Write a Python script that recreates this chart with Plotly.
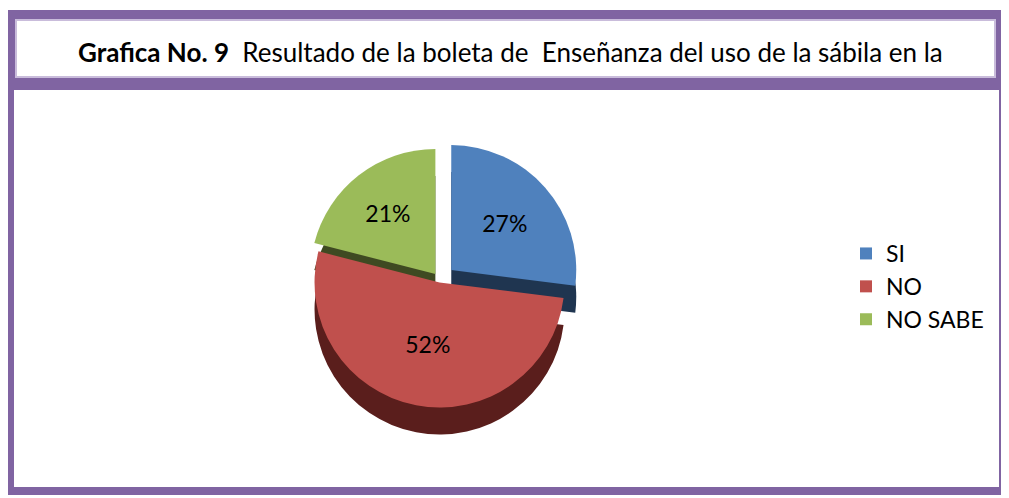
import plotly.graph_objects as go

categories = ["SI", "NO", "NO SABE"]
values = [27, 52, 21]
colors = ["#4F81BD", "#C0504D", "#9BBB59"]
dark_colors = ["#1F3550", "#5A1E1C", "#3F4A22"]
pulls = [0.12, 0.02, 0.06]
title_text = "<b>Grafica No. 9</b>  Resultado de la boleta de  Enseñanza del uso de la sábila en la"

# page body has an 8px margin, so figure is 8px smaller each way and coords shift by 8
OFF = 8
W, H = 1009 - OFF, 498 - OFF
purple = "#8064A2"
FONT = "Lato"

def px_x(x):
    return (x - OFF) / W

def px_y(y):
    return 1 - (y - OFF) / H

fig = go.Figure()

dom_x = [px_x(265), px_x(615)]
# depth layer (fake 3D side)
fig.add_trace(go.Pie(
    labels=categories, values=values, sort=False, direction="clockwise", rotation=0,
    pull=pulls, marker=dict(colors=dark_colors), textinfo="none", showlegend=False,
    hoverinfo="skip", domain=dict(x=dom_x, y=[px_y(447), px_y(167)]),
))
fig.add_trace(go.Pie(
    labels=categories, values=values, sort=False, direction="clockwise", rotation=0,
    pull=pulls, marker=dict(colors=colors), textinfo="percent", textposition="inside",
    insidetextorientation="horizontal",
    textfont=dict(family=FONT, size=23, color="#000000"),
    domain=dict(x=dom_x, y=[px_y(420), px_y(140)]),
))

shapes = [
    # title frame
    dict(type="rect", xref="paper", yref="paper", x0=px_x(6), x1=px_x(1004), y0=px_y(86), y1=px_y(10),
         fillcolor=purple, line=dict(width=0), layer="below"),
    dict(type="rect", xref="paper", yref="paper", x0=px_x(16), x1=px_x(995), y0=px_y(77), y1=px_y(20),
         fillcolor="white", line=dict(color="#C9BCDB", width=2), layer="below"),
    # chart frame
    dict(type="rect", xref="paper", yref="paper", x0=px_x(6), x1=px_x(1006), y0=px_y(495), y1=px_y(84),
         fillcolor=purple, line=dict(width=0), layer="below"),
    dict(type="rect", xref="paper", yref="paper", x0=px_x(14), x1=px_x(999), y0=px_y(487), y1=px_y(90),
         fillcolor="white", line=dict(width=0), layer="below"),
]

fig.update_layout(
    width=W, height=H,
    margin=dict(l=0, r=0, t=0, b=0),
    paper_bgcolor="white", plot_bgcolor="white",
    shapes=shapes,
    annotations=[dict(text=title_text, xref="paper", yref="paper", x=px_x(510), y=px_y(52),
                      xanchor="center", yanchor="middle", showarrow=False,
                      font=dict(family=FONT, size=26, color="black"))],
    legend=dict(x=px_x(846), y=px_y(232), xanchor="left", yanchor="top",
                font=dict(family=FONT, size=23, color="black"),
                itemwidth=30, bgcolor="rgba(0,0,0,0)"),
)

fig.write_html("out.html")
